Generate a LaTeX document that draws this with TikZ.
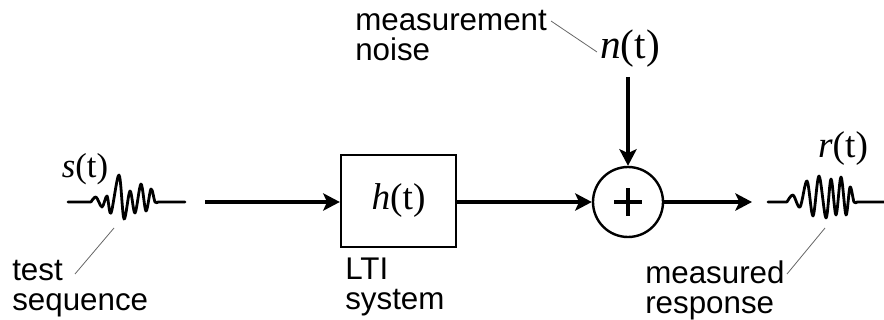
\documentclass[tikz,border=0pt]{standalone}
\usepackage{fontspec}
\setmainfont{Liberation Sans}
\newfontfamily\serifmath{Liberation Serif}
\usetikzlibrary{arrows.meta}
\begin{document}
\begin{tikzpicture}[x=0.75pt,y=-0.75pt,
  arr/.style={line width=2.5pt,-{Stealth[length=12.5pt,width=13pt,inset=3pt]}},
  wave/.style={line width=2.1pt,line cap=round,line join=round},
  leader/.style={line width=0.6pt,draw=black!60},
  caption/.style={anchor=north west,inner sep=0pt,align=left,
    font={\fontsize{23.5pt}{22.5pt}\selectfont}},
  sig/.style={inner sep=0pt,font={\serifmath\fontsize{#1}{#1}\selectfont}},
  blockbox/.style={draw,line width=1.8pt,minimum width=86.25pt,minimum height=69pt,inner sep=0pt},
  sumnode/.style={draw,circle,line width=1.8pt,minimum size=52.5pt,inner sep=0pt}]
\useasboundingbox (0,0) rectangle (884,320);

% input signal s(t)
\node[sig=26pt] (slab) at (85,169) {\textit{s}(t)};
\draw[wave] (68,202) -- (91,202)
  plot[smooth,tension=0.55] coordinates {(91,202) (96,197) (102,207) (107,196) (111,213) (119,175) (124,219) (130,191) (135,213) (141,184) (146,211) (151,189) (155,202) (158,202)}
  -- (185,202);
\coordinate (stest) at (114,228);
\coordinate (ttest) at (75,274);
\draw[leader] (stest) -- (ttest);
\node[caption] (testseq) at (12,260) {test\\sequence};

% LTI block
\node[blockbox,sig=28pt] (h) at (398.5,201) {\textit{h}(t)};
\node[caption] (lti) at (345,258) {LTI\\system};
\coordinate (arrstart) at (205,202);
\draw[arr] (arrstart) -- (h.west |- arrstart);

% summing junction
\node[sumnode] (sum) at (628,202) {};
\draw[line width=3.5pt] ([xshift=-10.5pt]sum.center) -- ([xshift=10.5pt]sum.center)
  ([yshift=-10.5pt]sum.center) -- ([yshift=10.5pt]sum.center);
\draw[arr] (h.east |- sum.west) -- (sum.west);

% noise
\node[sig=31pt] (n) at (630,49) {\textit{n}(t)};
\coordinate (ntop) at (628,77);
\draw[arr] (ntop) -- (sum.north);
\node[caption] (noise) at (355,10) {measurement\\noise};
\coordinate (mleadA) at (551,21);
\coordinate (mleadB) at (597,52);
\draw[leader] (mleadA) -- (mleadB);

% output
\coordinate (outend) at (752,202);
\draw[arr] (sum.east) -- (outend);
\node[sig=28pt] (rlab) at (843,149) {\textit{r}(t)};
\draw[wave] (768,202) -- (787,202)
  plot[smooth,tension=0.55] coordinates {(787,202) (793,195) (800,207) (807,181) (813,216) (819,176) (826,218) (831,179) (836,215) (841,177) (846,215) (850,187) (854,202) (857,202)}
  -- (884,202);
\coordinate (rleadA) at (825,228);
\coordinate (rleadB) at (787,274);
\draw[leader] (rleadA) -- (rleadB);
\node[caption] (resp) at (645,261) {measured\\response};
\end{tikzpicture}
\end{document}
